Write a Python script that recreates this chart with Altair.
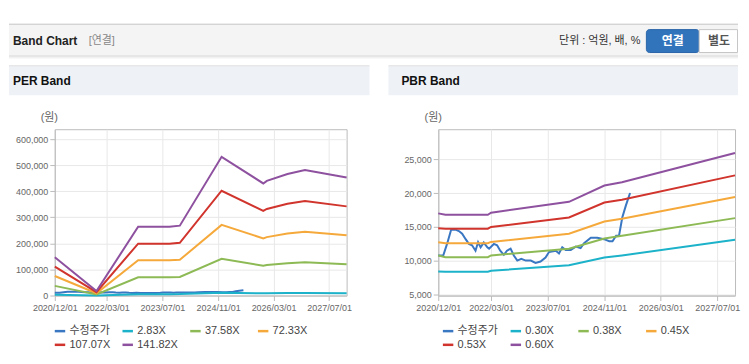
import altair as alt
import pandas as pd

# ---------------- data ----------------
per_series = ["수정주가", "2.83X", "37.58X", "72.33X", "107.07X", "141.82X"]
pbr_series = ["수정주가", "0.30X", "0.38X", "0.45X", "0.53X", "0.60X"]
series_colors = ["#3a77c2", "#1cb2c9", "#8dba55", "#f6a93b", "#d0342c", "#8e519f"]

price_dates = ["2020-12-01", "2021-01-13", "2021-02-15", "2021-03-22", "2021-04-28", "2021-05-28",
               "2021-06-25", "2021-07-25", "2021-08-22", "2021-09-18", "2021-10-18", "2021-11-09",
               "2021-12-01", "2021-12-28", "2022-01-28", "2022-02-12", "2022-03-25", "2022-04-22",
               "2022-05-19", "2022-06-19", "2022-07-16", "2022-08-16", "2022-09-13", "2022-10-13",
               "2022-11-16", "2022-12-25", "2023-02-06", "2023-03-19", "2023-05-01", "2023-06-13",
               "2023-07-13", "2023-09-10", "2023-10-07", "2023-11-04", "2023-12-04", "2024-01-16",
               "2024-02-28", "2024-04-10", "2024-05-10", "2024-07-07", "2024-09-01", "2024-10-28",
               "2024-12-13", "2025-01-10", "2025-02-10", "2025-03-07", "2025-04-04", "2025-05-04",
               "2025-06-10"]
price_values = [10800, 10800, 12500, 14600, 14600, 14400, 14000, 13200, 12500, 12300, 11500, 12750,
                12000, 12700, 12000, 11800, 12500, 12300, 11500, 10900, 11500, 11800, 10800, 10050,
                10300, 10050, 10050, 9700, 9900, 10500, 11300, 11500, 11100, 12000, 11600, 11600,
                12100, 11900, 12600, 13400, 13400, 13200, 12900, 12900, 13700, 13700, 16400, 18100,
                20000]

per_dates = ["2020-12-01", "2021-12-01", "2022-12-01", "2023-09-01", "2023-12-01", "2024-12-01",
             "2025-12-01", "2026-01-01", "2026-07-01", "2026-12-01", "2027-12-01"]
per_2_83 = [2900, 300, 5300, 5300, 5400, 10600, 8600, 8800, 9300, 9600, 9100]
per_37_58 = [37000, 4500, 70000, 70000, 71000, 141000, 114000, 117000, 123500, 127500, 120000]
per_72_33 = [75000, 8700, 135000, 135000, 137000, 271000, 219000, 224000, 238000, 245000, 231000]
per_107_07 = [111000, 13000, 199000, 199000, 202000, 402000, 325000, 332000, 352000, 363000, 342000]
per_141_82 = [147000, 17000, 264000, 264000, 268000, 532000, 430000, 440000, 466000, 481000, 453000]

pbr_dates = ["2020-12-01", "2021-02-01", "2022-02-01", "2022-03-01", "2024-01-01", "2024-11-01",
             "2025-04-01", "2027-12-01"]
pbr_0_30 = [8450, 8400, 8400, 8550, 9350, 10500, 10800, 13100]
pbr_0_38 = [10800, 10550, 10550, 10800, 11800, 13300, 13700, 16300]
pbr_0_45 = [12750, 12600, 12600, 12800, 14000, 15800, 16200, 19400]
pbr_0_53 = [14800, 14750, 14750, 15000, 16400, 18600, 19000, 22600]
pbr_0_60 = [17000, 16800, 16800, 17100, 18700, 21100, 21600, 25900]

x_ticks = [(2020, 12), (2022, 3), (2023, 7), (2024, 11), (2026, 3), (2027, 7)]
per_y_ticks = [0, 100000, 200000, 300000, 400000, 500000, 600000]
pbr_y_ticks = [5000, 10000, 15000, 20000, 25000]


def long_frame(series_names, price, bands, band_dates):
    rows = []
    for d, v in zip(price_dates, price):
        rows.append({"date": d, "value": v, "series": series_names[0]})
    for name, vals in zip(series_names[1:], bands):
        for d, v in zip(band_dates, vals):
            rows.append({"date": d, "value": v, "series": name})
    return pd.DataFrame(rows)


per_df = long_frame(per_series, price_values,
                    [per_2_83, per_37_58, per_72_33, per_107_07, per_141_82], per_dates)
pbr_df = long_frame(pbr_series, price_values,
                    [pbr_0_30, pbr_0_38, pbr_0_45, pbr_0_53, pbr_0_60], pbr_dates)

one = pd.DataFrame({"k": [0]})
LAT = "Liberation Sans"
KR = "'Liberation Sans', 'Noto Sans CJK KR'"


def box(x1, x2, y1, y2, fill, stroke=None, radius=0):
    kw = {"fill": fill}
    if stroke:
        kw["stroke"] = stroke
        kw["strokeWidth"] = 1
    if radius:
        kw["cornerRadius"] = radius
    return alt.Chart(one).mark_rect(**kw).encode(
        x=alt.value(x1), x2=alt.value(x2), y=alt.value(y1), y2=alt.value(y2))


def label(x, y, txt, size=11, weight="normal", color="#333", align="left", font=KR):
    return alt.Chart(one).mark_text(
        align=align, baseline="middle", fontSize=size, fontWeight=weight,
        color=color, font=font).encode(x=alt.value(x), y=alt.value(y), text=alt.value(txt))


def xdate(y, m):
    return alt.DateTime(year=y, month=m, date=1, utc=True)


def line_layer(df, names, ydomain, yvalues, legend_x):
    return alt.Chart(df).mark_line(strokeWidth=2).encode(
        x=alt.X("date:T",
                scale=alt.Scale(type="utc", domain=[xdate(2020, 12), xdate(2027, 12)], nice=False),
                axis=alt.Axis(values=[xdate(y, m) for y, m in x_ticks], format="%Y/%m/%d",
                              title=None, labelPadding=3, labelFlush=False)),
        y=alt.Y("value:Q", scale=alt.Scale(domain=ydomain, nice=False, zero=False),
                axis=alt.Axis(values=yvalues, format=",.0f", title=None, labelPadding=2)),
        color=alt.Color("series:N",
                        scale=alt.Scale(domain=names, range=series_colors),
                        sort=names,
                        legend=alt.Legend(orient="none", legendX=legend_x, legendY=196,
                                          direction="horizontal", columns=4, title=None,
                                          symbolType="stroke", symbolSize=110,
                                          symbolStrokeWidth=2.5, labelFontSize=11,
                                          labelFont=KR, labelColor="#444", labelOffset=3,
                                          columnPadding=7, rowPadding=2, gridAlign="all",
                                          padding=0, labelLimit=200)),
    )


# page right edge kept at 740 so the svg fits inside the page margins
R_LEFT = 686   # 740 - 54

# ---------------- left panel (origin at page 54,128) ----------------
left_deco = [
    box(-46, R_LEFT, -120, -106, "#ffffff"),
    box(-46, R_LEFT, -106, -105, "#b8b8b8"),
    box(-46, R_LEFT, -105, -74, "#f4f4f4"),
    box(-46, R_LEFT, -74, -73, "#d4d4d4"),
    box(-46, R_LEFT, -73, -72, "#e4e4e4"),
    box(-46, R_LEFT, -72, -71, "#f2f2f2"),
    box(-46, 316, -64, -63, "#cfcfcf"),
    box(-46, 316, -63, -34, "#eef2f7"),
    label(-42, -89, "Band Chart", size=12, weight="bold", color="#222", font=LAT),
    label(34, -89, "[연결]", size=11, color="#888"),
    label(588, -89, "단위 : 억원, 배, %", size=11, color="#333", align="right"),
    box(594, 647, -100, -77, "#3274bc", stroke="#2b66a8", radius=3),
    label(620.5, -88.5, "연결", size=12, weight="bold", color="#ffffff", align="center"),
    box(647, R_LEFT - 0.5, -100, -77, "#ffffff", stroke="#c6c6c6"),
    label(667, -88.5, "별도", size=12, weight="bold", color="#555", align="center"),
    label(-42, -48, "PER Band", size=12, weight="bold", color="#111", font=LAT),
    label(-5.5, -11, "(원)", size=11, color="#666", align="center"),
]
left = alt.layer(
    *left_deco,
    line_layer(per_df, per_series, [0, 638000], per_y_ticks, -1.3),
).properties(width=293, height=167)

# ---------------- right panel (origin at page 439,128) ----------------
R_RIGHT = 301  # 740 - 439
right_deco = [
    box(-50, R_RIGHT, -64, -63, "#cfcfcf"),
    box(-50, R_RIGHT, -63, -34, "#eef2f7"),
    label(-37, -48, "PBR Band", size=12, weight="bold", color="#111", font=LAT),
    label(-5, -11, "(원)", size=11, color="#666", align="center"),
]
right = alt.layer(
    *right_deco,
    line_layer(pbr_df, pbr_series, [4900, 29400], pbr_y_ticks, 3.4),
).properties(width=298, height=167)

chart = alt.hconcat(left, right, spacing=92, bounds="flush").resolve_scale(
    color="independent", x="independent", y="independent"
).resolve_legend(color="independent").properties(
    padding=0, background="#ffffff"
).configure_view(stroke="#bbbbbb", strokeWidth=1).configure_axis(
    labelFont=LAT, labelFontSize=9, labelColor="#666666", domainColor="#bbbbbb",
    tickColor="#bbbbbb", tickSize=5, gridColor="#e8e8e8", grid=True
)

chart.save("out.html", embed_options={"renderer": "svg", "actions": False})
